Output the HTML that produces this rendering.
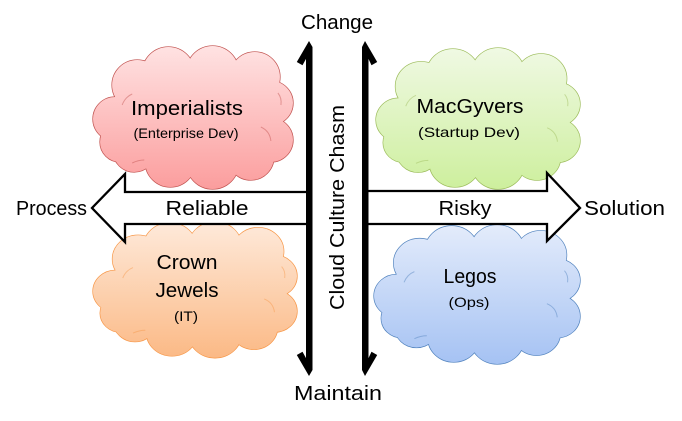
<!DOCTYPE html>
<html><head><meta charset="utf-8"><style>
html,body{margin:0;padding:0;background:#fff;}
svg{display:block;}
text{font-family:"Liberation Sans",Arial,sans-serif;fill:#000;}
</style></head><body>
<svg width="682" height="421" viewBox="0 0 682 421" xmlns="http://www.w3.org/2000/svg">
<defs>
  <g id="cl">
    <circle cx="45" cy="40" r="25" vector-effect="non-scaling-stroke"/>
    <circle cx="76" cy="28" r="26" vector-effect="non-scaling-stroke"/>
    <circle cx="120" cy="27" r="26" vector-effect="non-scaling-stroke"/>
    <circle cx="162" cy="32" r="25" vector-effect="non-scaling-stroke"/>
    <circle cx="178" cy="58" r="22" vector-effect="non-scaling-stroke"/>
    <circle cx="178" cy="95" r="22" vector-effect="non-scaling-stroke"/>
    <circle cx="158" cy="112" r="23" vector-effect="non-scaling-stroke"/>
    <circle cx="120" cy="118" r="26" vector-effect="non-scaling-stroke"/>
    <circle cx="78" cy="117" r="25" vector-effect="non-scaling-stroke"/>
    <circle cx="42" cy="106" r="21" vector-effect="non-scaling-stroke"/>
    <circle cx="23" cy="74" r="22" vector-effect="non-scaling-stroke"/>
    <circle cx="28" cy="97" r="20" vector-effect="non-scaling-stroke"/>
    <ellipse cx="100" cy="72" rx="80" ry="50" vector-effect="non-scaling-stroke"/>
  </g>
  <g id="cr" fill="none" stroke-opacity="0.45">
    <path d="M30,60 q3,-8 10,-11" vector-effect="non-scaling-stroke"/>
    <path d="M185,48 q4,5 3,12" vector-effect="non-scaling-stroke"/>
    <path d="M168,82 q9,4 10,14" vector-effect="non-scaling-stroke"/>
    <path d="M40,118 q6,-3 12,-3" vector-effect="non-scaling-stroke"/>
  </g>
  <linearGradient id="gr" gradientUnits="userSpaceOnUse" x1="0" y1="0" x2="0" y2="145">
    <stop offset="0" stop-color="#ffe3e3"/><stop offset="1" stop-color="#fb9d9d"/>
  </linearGradient>
  <linearGradient id="gg" gradientUnits="userSpaceOnUse" x1="0" y1="0" x2="0" y2="145">
    <stop offset="0" stop-color="#f0f9e4"/><stop offset="1" stop-color="#cdef9d"/>
  </linearGradient>
  <linearGradient id="go" gradientUnits="userSpaceOnUse" x1="0" y1="0" x2="0" y2="145">
    <stop offset="0" stop-color="#feeadb"/><stop offset="1" stop-color="#fbb985"/>
  </linearGradient>
  <linearGradient id="gb" gradientUnits="userSpaceOnUse" x1="0" y1="0" x2="0" y2="145">
    <stop offset="0" stop-color="#e4ecfb"/><stop offset="1" stop-color="#a5c2f3"/>
  </linearGradient>
</defs>

<!-- Clouds -->
<g transform="translate(92,45) scale(1.005,1)">
  <use href="#cl" fill="none" stroke="#c0504d" stroke-width="1.3"/>
  <use href="#cl" fill="url(#gr)" stroke="none"/>
  <use href="#cr" stroke="#c0504d" stroke-width="1"/>
</g>
<g transform="translate(375,47) scale(1.025,0.986)">
  <use href="#cl" fill="none" stroke="#9bbb59" stroke-width="1.3"/>
  <use href="#cl" fill="url(#gg)" stroke="none"/>
  <use href="#cr" stroke="#9bbb59" stroke-width="1"/>
</g>
<g transform="translate(92,221) scale(1.025,0.95)">
  <use href="#cl" fill="none" stroke="#f79646" stroke-width="1.3"/>
  <use href="#cl" fill="url(#go)" stroke="none"/>
  <use href="#cr" stroke="#f79646" stroke-width="1"/>
</g>
<g transform="translate(373,224) scale(1.035,0.972)">
  <use href="#cl" fill="none" stroke="#4f81bd" stroke-width="1.3"/>
  <use href="#cl" fill="url(#gb)" stroke="none"/>
  <use href="#cr" stroke="#4f81bd" stroke-width="1"/>
</g>

<!-- Block arrows -->
<polygon points="309,192 125,192 125,174 92,208 125,242 125,224 309,224" fill="#fff" stroke="#000" stroke-width="2.3" stroke-linejoin="miter"/>
<polygon points="366,191 547,191 547,173 580,208 547,241 547,224 366,224" fill="#fff" stroke="#000" stroke-width="2.3" stroke-linejoin="miter"/>

<!-- Vertical arrows -->
<polygon fill="#000" points="309,41 312.5,47 312.5,370 309,376 296.8,355 302.5,351.8 306,358.1 306,58.9 302.5,65.2 296.8,62"/>
<polygon fill="#000" points="365,41 362,47 362,370 365,376 377.2,355 371.5,351.8 368.5,358.1 368.5,58.9 371.5,65.2 377.2,62"/>

<!-- Labels -->
<text x="337" y="29" font-size="20" text-anchor="middle" textLength="72" lengthAdjust="spacingAndGlyphs">Change</text>
<text x="338" y="400" font-size="20" text-anchor="middle" textLength="88" lengthAdjust="spacingAndGlyphs">Maintain</text>
<text x="16" y="215" font-size="20" textLength="71" lengthAdjust="spacingAndGlyphs">Process</text>
<text x="584" y="215" font-size="20" textLength="81" lengthAdjust="spacingAndGlyphs">Solution</text>
<text x="207" y="215" font-size="20" text-anchor="middle" textLength="83" lengthAdjust="spacingAndGlyphs">Reliable</text>
<text x="465" y="215" font-size="20" text-anchor="middle" textLength="53" lengthAdjust="spacingAndGlyphs">Risky</text>
<text transform="translate(344,207.5) rotate(-90)" x="0" y="0" font-size="20" text-anchor="middle" textLength="205" lengthAdjust="spacingAndGlyphs">Cloud Culture Chasm</text>

<text x="187" y="115" font-size="20" text-anchor="middle" textLength="112" lengthAdjust="spacingAndGlyphs">Imperialists</text>
<text x="186" y="138" font-size="14" text-anchor="middle" textLength="105" lengthAdjust="spacingAndGlyphs">(Enterprise Dev)</text>

<text x="470" y="113" font-size="20" text-anchor="middle" textLength="107" lengthAdjust="spacingAndGlyphs">MacGyvers</text>
<text x="469" y="137" font-size="14" text-anchor="middle" textLength="102" lengthAdjust="spacingAndGlyphs">(Startup Dev)</text>

<text x="187" y="269" font-size="20" text-anchor="middle" textLength="61" lengthAdjust="spacingAndGlyphs">Crown</text>
<text x="187" y="297" font-size="20" text-anchor="middle" textLength="63" lengthAdjust="spacingAndGlyphs">Jewels</text>
<text x="186" y="321" font-size="14" text-anchor="middle" textLength="24" lengthAdjust="spacingAndGlyphs">(IT)</text>

<text x="470" y="283" font-size="20" text-anchor="middle" textLength="53" lengthAdjust="spacingAndGlyphs">Legos</text>
<text x="469" y="307" font-size="14" text-anchor="middle" textLength="41" lengthAdjust="spacingAndGlyphs">(Ops)</text>
</svg>
</body></html>
